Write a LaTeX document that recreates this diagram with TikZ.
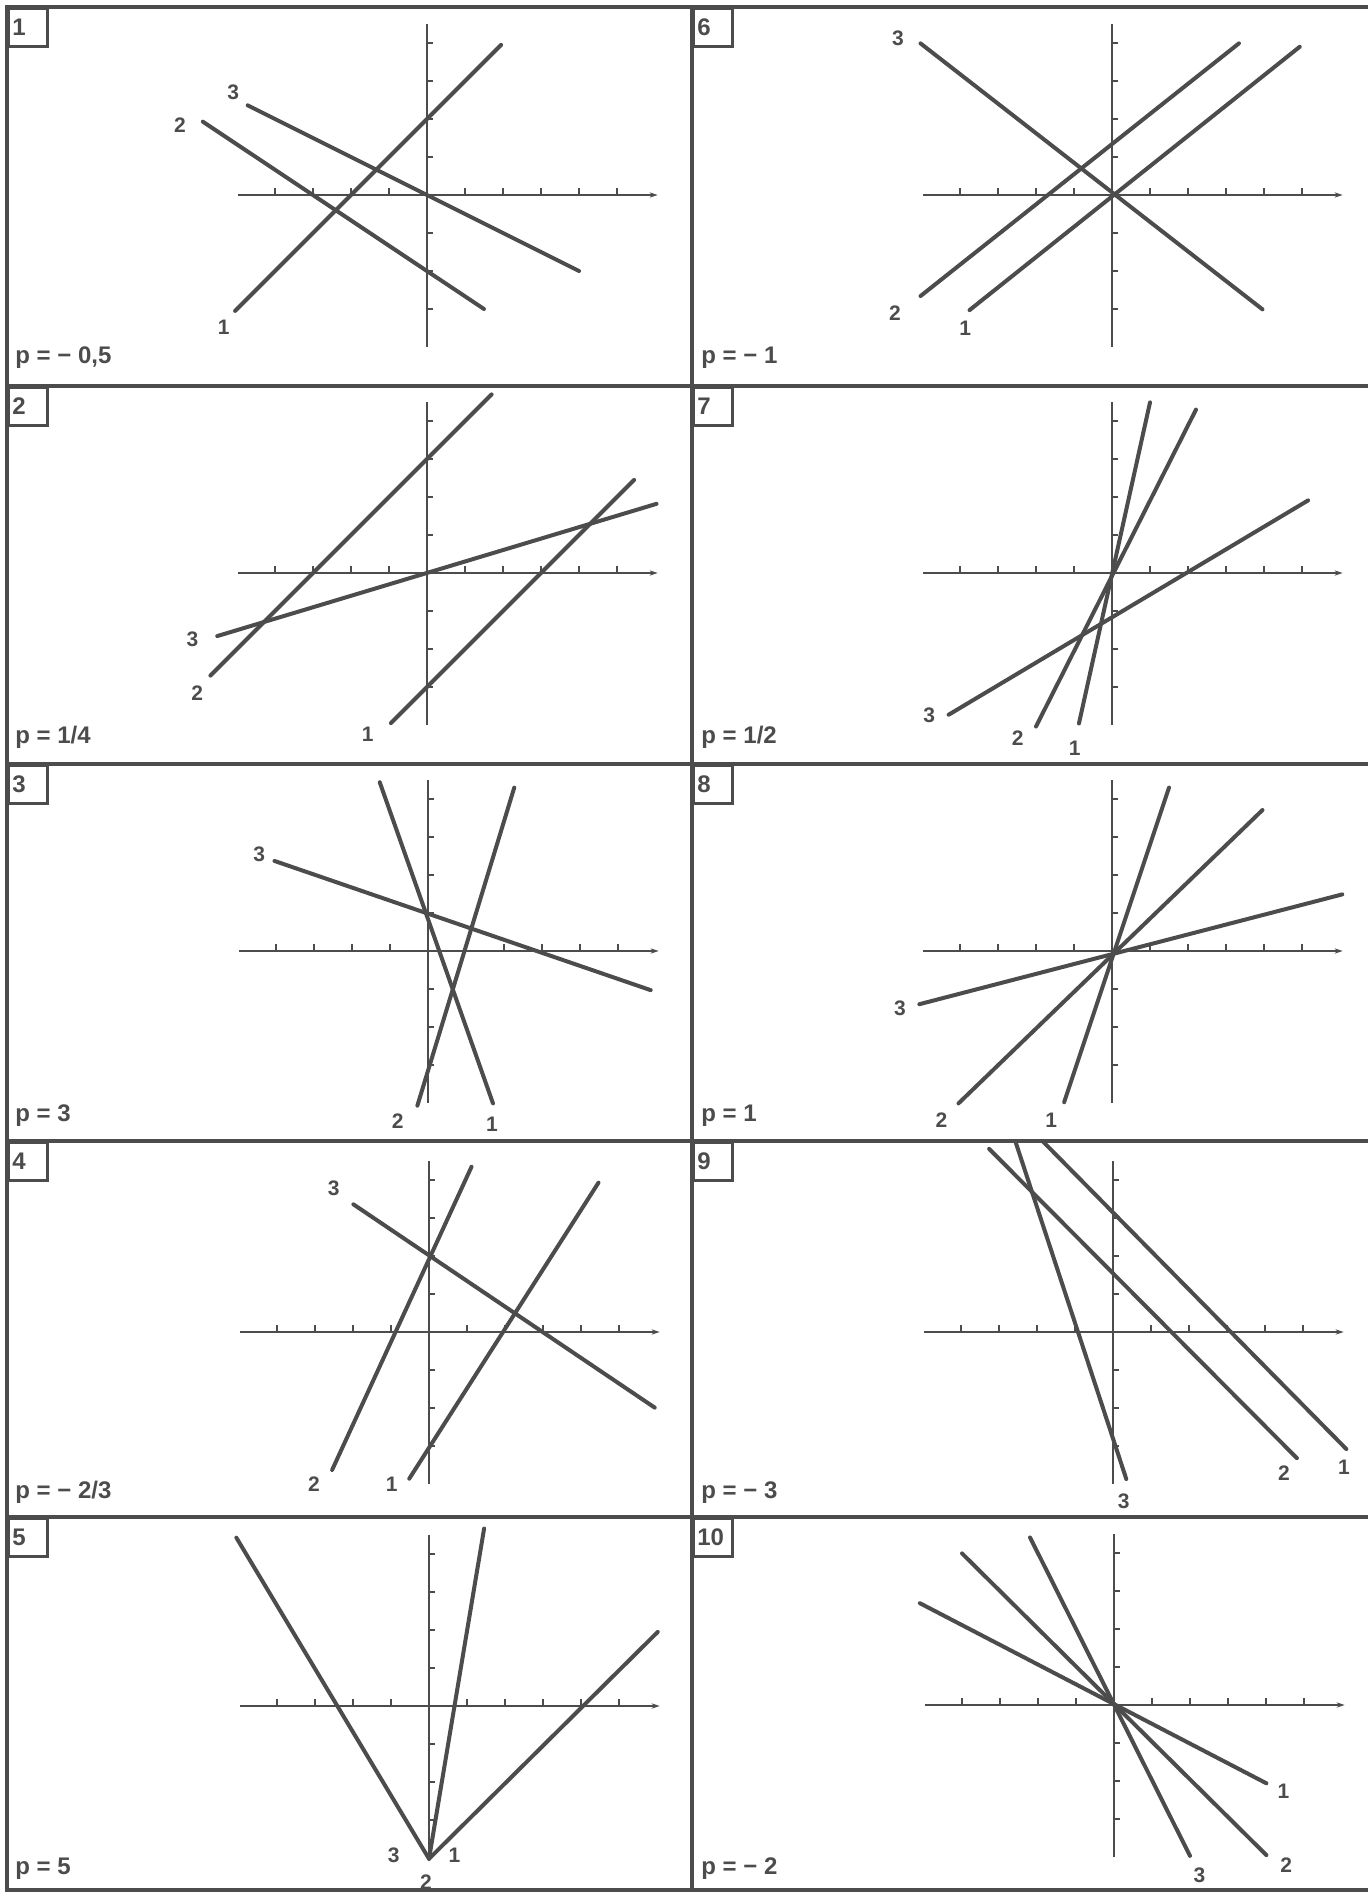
\documentclass[tikz,border=0pt]{standalone}
\usepackage{fontspec}
\setmainfont{Liberation Sans}
\usetikzlibrary{arrows.meta}
\definecolor{ink}{rgb}{0.30,0.30,0.30}

% axes of one panel, in panel units
\newcommand{\drawaxes}{%
  \draw[axisline,-{Stealth[length=4pt,width=2.6pt]}] (-4.97,0) -- (6.07,0);
  \draw[axisline] (0,-4) -- (0,4.5);
  \foreach \i in {-4,-3,-2,-1,1,2,3,4,5} \draw[axisline] (\i,0) -- (\i,0.18);
  \foreach \j in {-3,-2,-1,1,2,3,4} \draw[axisline] (0,\j) -- (0.17,\j);
}

\begin{document}
\begin{tikzpicture}[x=0.5pt,y=-0.5pt,
  frame/.style={draw=ink,line width=1.8pt,line cap=rect},
  axisline/.style={draw=ink,line width=0.9pt},
  graphline/.style={draw=ink,line width=2pt,line cap=round},
  numbox/.style={draw=ink,line width=1.3pt,anchor=north west,inner xsep=2pt,text width=15.5pt,minimum height=19pt,align=left,font=\fontsize{12}{12}\selectfont\bfseries,text=ink},
  plabel/.style={anchor=base west,inner sep=0pt,font=\fontsize{12}{14}\selectfont\bfseries,text=ink},
  lab/.style={inner sep=0pt,font=\fontsize{10.5}{12}\selectfont\bfseries,text=ink}]
\useasboundingbox (0,0) rectangle (1367,1893);

%Frame
\foreach \y in {7,386,764,1141,1517,1890} \draw[frame] (7,\y) -- (1367,\y);
\foreach \x in {7,692} \draw[frame] (\x,7) -- (\x,1890);

% Number boxes
\node[numbox] (n1) at (7,7) {1};
\node[numbox] (n2) at (7,386) {2};
\node[numbox] (n3) at (7,764) {3};
\node[numbox] (n4) at (7,1141) {4};
\node[numbox] (n5) at (7,1517) {5};
\node[numbox] (n6) at (692,7) {6};
\node[numbox] (n7) at (692,386) {7};
\node[numbox] (n8) at (692,764) {8};
\node[numbox] (n9) at (692,1141) {9};
\node[numbox] (n10) at (692,1517) {10};

% Text Node
\node[plabel] (p1) at (15,364) {p = − 0,5};
\node[plabel] (p2) at (15,743) {p = 1/4};
\node[plabel] (p3) at (15,1121) {p = 3};
\node[plabel] (p4) at (15,1498) {p = − 2/3};
\node[plabel] (p5) at (15,1874) {p = 5};
\node[plabel] (p6) at (701,364) {p = − 1};
\node[plabel] (p7) at (701,743) {p = 1/2};
\node[plabel] (p8) at (701,1121) {p = 1};
\node[plabel] (p9) at (701,1498) {p = − 3};
\node[plabel] (p10) at (701,1874) {p = − 2};

%Panel 1
\begin{scope}[shift={(427,195)},x=19pt,y=19pt]
\drawaxes
\draw[graphline] (-5.05,-3.05) -- (1.95,3.95);
\draw[graphline] (-5.9,1.93) -- (1.5,-3.0);
\draw[graphline] (-4.72,2.36) -- (4.0,-2.0);
\node[lab] (a1) at (-5.35,-3.48) {1};
\node[lab] (a2) at (-6.5,1.84) {2};
\node[lab] (a3) at (-5.1,2.69) {3};
\end{scope}

%Panel 2
\begin{scope}[shift={(427,573)},x=19pt,y=19pt]
\drawaxes
\draw[graphline] (-0.95,-3.95) -- (5.45,2.45);
\draw[graphline] (-5.7,-2.7) -- (1.7,4.7);
\draw[graphline] (-5.52,-1.66) -- (6.04,1.82);
\node[lab] (b1) at (-1.56,-4.25) {1};
\node[lab] (b2) at (-6.05,-3.16) {2};
\node[lab] (b3) at (-6.17,-1.75) {3};
\end{scope}

%Panel 3
\begin{scope}[shift={(428,951)},x=19pt,y=19pt]
\drawaxes
\draw[graphline] (-1.27,4.44) -- (1.71,-4.01);
\draw[graphline] (-0.28,-4.07) -- (2.27,4.30);
\draw[graphline] (-4.04,2.37) -- (5.86,-1.03);
\node[lab] (c1) at (1.68,-4.56) {1};
\node[lab] (c2) at (-0.80,-4.49) {2};
\node[lab] (c3) at (-4.44,2.54) {3};
\end{scope}

%Panel 4
\begin{scope}[shift={(429,1332)},x=19pt,y=19pt]
\drawaxes
\draw[graphline] (-0.52,-3.86) -- (4.46,3.93);
\draw[graphline] (-2.55,-3.63) -- (1.12,4.35);
\draw[graphline] (-1.99,3.36) -- (5.94,-1.99);
\node[lab] (d1) at (-0.98,-4.01) {1};
\node[lab] (d2) at (-3.03,-4.01) {2};
\node[lab] (d3) at (-2.51,3.77) {3};
\end{scope}

%Panel 5
\begin{scope}[shift={(429,1706)},x=19pt,y=19pt]
\drawaxes
\coordinate (v5) at (0,-4.02);
\draw[graphline] (-5.07,4.43) -- (v5);
\draw[graphline] (1.45,4.67) -- (v5);
\draw[graphline] (v5) -- (6.02,1.95);
\node[lab] (e1) at (0.67,-3.93) {1};
\node[lab] (e2) at (-0.08,-4.64) {2};
\node[lab] (e3) at (-0.93,-3.93) {3};
\end{scope}

%Panel 6
\begin{scope}[shift={(1112,195)},x=19pt,y=19pt]
\drawaxes
\draw[graphline] (-3.75,-3.03) -- (4.94,3.90);
\draw[graphline] (-5.04,-2.66) -- (3.34,3.99);
\draw[graphline] (-5.04,3.99) -- (3.96,-3.01);
\node[lab] (f1) at (-3.86,-3.51) {1};
\node[lab] (f2) at (-5.71,-3.11) {2};
\node[lab] (f3) at (-5.63,4.12) {3};
\end{scope}

%Panel 7
\begin{scope}[shift={(1112,573)},x=19pt,y=19pt]
\drawaxes
\draw[graphline] (-0.87,-3.96) -- (1.0,4.49);
\draw[graphline] (-2.0,-4.04) -- (2.21,4.30);
\draw[graphline] (-4.30,-3.73) -- (5.16,1.91);
\node[lab] (g1) at (-0.98,-4.6) {1};
\node[lab] (g2) at (-2.48,-4.34) {2};
\node[lab] (g3) at (-4.81,-3.75) {3};
\end{scope}

%Panel 8
\begin{scope}[shift={(1112,951)},x=19pt,y=19pt]
\drawaxes
\draw[graphline] (-1.26,-3.98) -- (1.50,4.30);
\draw[graphline] (-4.04,-4.01) -- (3.96,3.71);
\draw[graphline] (-5.07,-1.40) -- (6.06,1.49);
\node[lab] (h1) at (-1.60,-4.45) {1};
\node[lab] (h2) at (-4.49,-4.45) {2};
\node[lab] (h3) at (-5.58,-1.51) {3};
\end{scope}

%Panel 9
\begin{scope}[shift={(1113,1332)},x=19pt,y=19pt]
\drawaxes
\draw[graphline] (-1.85,5.02) -- (6.14,-3.08);
\draw[graphline] (-3.26,4.82) -- (4.84,-3.32);
\draw[graphline] (-2.57,5.02) -- (0.35,-3.87);
\node[lab] (i1) at (6.08,-3.56) {1};
\node[lab] (i2) at (4.50,-3.71) {2};
\node[lab] (i3) at (0.28,-4.46) {3};
\end{scope}

%Panel 10
\begin{scope}[shift={(1114,1705)},x=19pt,y=19pt]
\drawaxes
\draw[graphline] (-5.11,2.68) -- (4.01,-2.06);
\draw[graphline] (-4.0,3.99) -- (4.01,-3.95);
\draw[graphline] (-2.21,4.41) -- (2.0,-3.97);
\node[lab] (j1) at (4.46,-2.28) {1};
\node[lab] (j2) at (4.53,-4.21) {2};
\node[lab] (j3) at (2.25,-4.47) {3};
\end{scope}
\end{tikzpicture}
\end{document}
